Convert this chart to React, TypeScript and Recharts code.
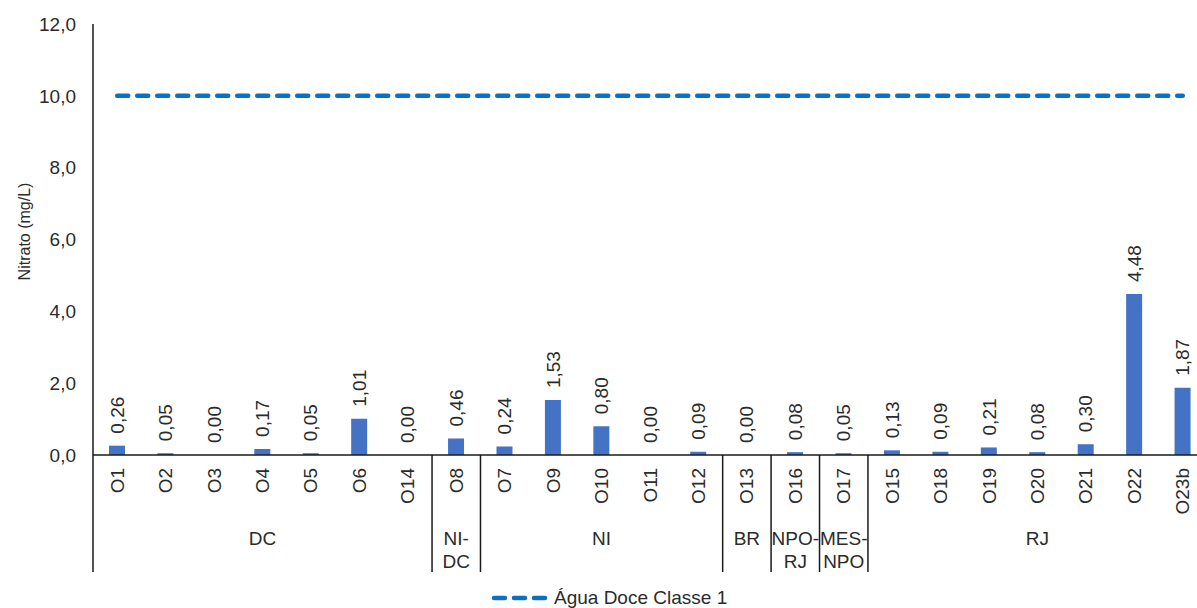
import React from 'react';
import { ComposedChart, Bar, Line, XAxis, YAxis, LabelList } from 'recharts';

const categories = ['O1','O2','O3','O4','O5','O6','O14','O8','O7','O9','O10','O11','O12','O13','O16','O17','O15','O18','O19','O20','O21','O22','O23b'];
const nitrate = [0.26,0.05,0.0,0.17,0.05,1.01,0.0,0.46,0.24,1.53,0.8,0.0,0.09,0.0,0.08,0.05,0.13,0.09,0.21,0.08,0.3,4.48,1.87];
const limitValue = 10;
const groups = [
  { lines: ['DC'], count: 7 },
  { lines: ['NI-', 'DC'], count: 1 },
  { lines: ['NI'], count: 5 },
  { lines: ['BR'], count: 1 },
  { lines: ['NPO-', 'RJ'], count: 1 },
  { lines: ['MES-', 'NPO'], count: 1 },
  { lines: ['RJ'], count: 7 },
];
const yTicks = [0, 2, 4, 6, 8, 10, 12];

const data = categories.map((c, i) => ({ name: c, value: nitrate[i], limit: limitValue }));

const CHART_W = 1207;
const CHART_H = 608;
const Y_AXIS_W = 93;
const PLOT_W = CHART_W - Y_AXIS_W;
const BAND = PLOT_W / categories.length;
const TEXT = '#2b2b2b';
const AXIS = '#1a1a1a';
const FONT = '"Liberation Sans", Arial, sans-serif';

const fmt = (v: number, d: number) => v.toFixed(d).replace('.', ',');

const groupStart: Record<number, number> = {};
{
  let idx = 0;
  groups.forEach((g, gi) => {
    groupStart[idx] = gi;
    idx += g.count;
  });
}

const XTick = (props: any) => {
  const { x, y, payload, index } = props;
  const axisY = y - 13;
  const gi = groupStart[index];
  const els: any[] = [];
  els.push(
    <text key="t" x={x} y={y} transform={`rotate(-90, ${x}, ${y})`} textAnchor="end" dominantBaseline="central" fontSize={19} fill={TEXT} fontFamily={FONT}>
      {payload.value}
    </text>
  );
  if (gi !== undefined) {
    const g = groups[gi];
    const left = x - BAND / 2;
    const right = left + g.count * BAND;
    const cx = (left + right) / 2;
    els.push(<line key="l" x1={left} x2={left} y1={axisY} y2={axisY + 117} stroke={AXIS} strokeWidth={1.5} />);
    if (gi === groups.length - 1) {
      els.push(<line key="r" x1={right} x2={right} y1={axisY} y2={axisY + 117} stroke={AXIS} strokeWidth={1.5} />);
    }
    g.lines.forEach((ln, li) => {
      els.push(
        <text key={'g' + li} x={cx} y={axisY + 83 + li * 23} textAnchor="middle" dominantBaseline="central" fontSize={19} fill={TEXT} fontFamily={FONT}>
          {ln}
        </text>
      );
    });
  }
  return <g>{els}</g>;
};

const PointLabel = (props: any) => {
  const { x, y, value } = props;
  const ty = y - 12;
  return (
    <text x={x} y={ty} transform={`rotate(-90, ${x}, ${ty})`} textAnchor="start" dominantBaseline="central" fontSize={19} fill={TEXT} fontFamily={FONT}>
      {fmt(Number(value), 2)}
    </text>
  );
};

const YLabel = (props: any) => {
  const vb = props.viewBox || {};
  const cx = 24;
  const cy = (vb.y ?? 24) + (vb.height ?? 431) / 2 - 8;
  return (
    <text x={cx} y={cy} transform={`rotate(-90, ${cx}, ${cy})`} textAnchor="middle" dominantBaseline="central" fontSize={16} fill={TEXT} fontFamily={FONT}>
      Nitrato (mg/L)
    </text>
  );
};

export default function App() {
  return (
    <div style={{ position: 'fixed', left: 0, top: 0, width: 1197, height: 608, overflow: 'hidden', background: '#fff' }}>
      <ComposedChart width={CHART_W} height={CHART_H} data={data} margin={{ top: 24, right: 0, bottom: 0, left: 0 }}>
        <XAxis
          dataKey="name"
          type="category"
          height={153}
          interval={0}
          tickLine={false}
          tickSize={6}
          tickMargin={7}
          axisLine={{ stroke: AXIS, strokeWidth: 1.5 }}
          tick={<XTick />}
        />
        <YAxis
          width={Y_AXIS_W}
          domain={[0, 12]}
          ticks={yTicks}
          tickFormatter={(v: number) => fmt(v, 1)}
          tickLine={false}
          tickSize={6}
          tickMargin={11}
          axisLine={{ stroke: AXIS, strokeWidth: 1.5 }}
          tick={{ fontSize: 19, fill: TEXT, fontFamily: FONT }}
          label={<YLabel />}
        />
        <Bar dataKey="value" fill="#4472C4" barSize={16} isAnimationActive={false} />
        <Line
          dataKey="value"
          stroke="none"
          dot={false}
          activeDot={false}
          legendType="none"
          isAnimationActive={false}
        >
          <LabelList dataKey="value" content={<PointLabel />} />
        </Line>
        <Line
          dataKey="limit"
          stroke="#0B70C1"
          strokeWidth={4.5}
          strokeDasharray="11 9"
          strokeLinecap="round"
          dot={false}
          activeDot={false}
          isAnimationActive={false}
        />
      </ComposedChart>
      <div style={{ position: 'absolute', left: 491, top: 587, height: 22, display: 'flex', alignItems: 'center', fontFamily: FONT, fontSize: 19, color: TEXT }}>
        <svg width={58} height={10} style={{ marginRight: 5 }}>
          <line x1={3} x2={56} y1={5} y2={5} stroke="#0B70C1" strokeWidth={4.5} strokeDasharray="11 9" strokeLinecap="round" />
        </svg>
        <span>Água Doce Classe 1</span>
      </div>
    </div>
  );
}
